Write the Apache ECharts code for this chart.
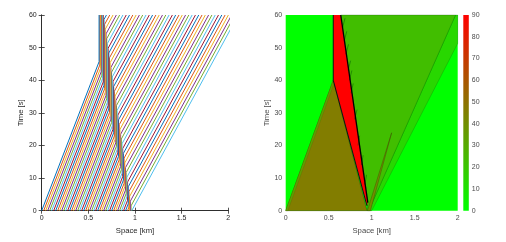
<!DOCTYPE html>
<html><head><meta charset="utf-8">
<script src="https://cdn.jsdelivr.net/npm/echarts@6/dist/echarts.min.js"></script>
<style>html,body{margin:0;padding:0;background:#fff}#c{width:506px;height:242px}</style>
</head><body><div id="c"></div>
<script>
// ---------- axis ticks ----------
const spaceTicks = [0, 0.5, 1, 1.5, 2];
const timeTicks = [0, 10, 20, 30, 40, 50, 60];
const densityTicks = [0, 10, 20, 30, 40, 50, 60, 70, 80, 90];

// ---------- left panel: vehicle trajectories (km, s), front vehicle first ----------
const startX = [0.965,0.9576,0.9501,0.9416,0.9202,0.8988,0.8774,0.856,0.8346,0.8132,0.7918,0.7704,0.749,0.7276,0.7062,0.6848,0.6634,0.642,0.6206,0.5992,0.5778,0.5564,0.535,0.5136,0.4922,0.4708,0.4494,0.428,0.4066,0.3852,0.3638,0.3424,0.321,0.2996,0.2782,0.2568,0.2354,0.214,0.1926,0.1712,0.1498,0.1284,0.107,0.0856,0.0642,0.0428,0.0214,0];
const stopX = [0.965,0.9576,0.9501,0.9427,0.9352,0.9278,0.9203,0.9129,0.9054,0.898,0.8905,0.8831,0.8756,0.8682,0.8607,0.8533,0.8458,0.8384,0.831,0.8235,0.8161,0.8086,0.8012,0.7937,0.7863,0.7788,0.7714,0.7639,0.7565,0.749,0.7416,0.7341,0.7267,0.7192,0.7118,0.7044,0.6969,0.6895,0.682,0.6746,0.6671,0.6597,0.6522,0.6448,0.6373,0.6299,0.6224,0.615];
const stopT = [0,0,0,0.08,1.12,2.15,3.19,4.23,5.26,6.3,7.34,8.37,9.41,10.45,11.48,12.52,13.56,14.59,15.63,16.67,17.7,18.74,19.78,20.81,21.85,22.89,23.92,24.96,26.0,27.03,28.07,29.11,30.14,31.18,32.21,33.25,34.29,35.32,36.36,37.4,38.43,39.47,40.51,41.54,42.58,43.62,44.65,45.69];
const goT = [0,1.47,2.93,4.4,5.86,7.33,8.79,10.26,11.72,13.19,14.65,16.12,17.58,19.05,20.51,21.98,23.44,24.91,26.37,27.84,29.3,30.77,32.23,33.7,35.16,36.63,38.09,39.56,41.02,42.49,43.95,45.42,46.88,48.35,49.81,51.28,52.74,54.21,55.67,57.14,58.6,60,60,60,60,60,60,60];
const endX = [2.107,2.0715,2.0362,2.0009,1.9655,1.9302,1.8948,1.8596,1.8242,1.7889,1.7535,1.7184,1.6831,1.6478,1.6124,1.5771,1.5418,1.5065,1.4711,1.4358,1.4005,1.3651,1.3298,1.2945,1.2592,1.2238,1.1885,1.1532,1.1179,1.0825,1.0472,1.0119,0.9766,0.9412,0.9059,0.8706,0.8353,0.7999,0.7646,0.7293,0.694,0.6597,0.6522,0.6448,0.6373,0.6299,0.6224,0.615];
const lineColors = ['#0072BD','#D95319','#EDB120','#7E2F8E','#77AC30','#4DBEEE','#A2142F'];

// ---------- right panel: density regions (km, s) ----------
const emptyRegion = [[0,0],[2,0],[2,60],[0,60]];
const emptyDensity = 0;
const outFanRegion = [[0.965,0],[1.0,0],[2,51.3],[2,60],[1.975,60]];
const outFanDensity = 14;
const downstreamRegion = [[0.945,0],[0.965,0],[1.975,60],[0.64,60],[0.955,2.5]];
const downstreamDensity = 23;
const upstreamRegion = [[0,0],[0.945,0],[0.553,40]];
const upstreamDensity = 46;
const inFanRegion = [[0,0],[0.553,40],[0.565,39.2],[0.025,0]];
const inFanDensity = 34;
const sliverRegion = [[0.95,0],[0.985,0],[1.232,23.9]];
const sliverDensity = 40;
const jamRegion = [[0.945,1.5],[0.553,40],[0.553,60],[0.64,60],[0.955,2.5]];
const jamDensity = 90;
const jamFrontLine = [[0.955,2.5],[0.64,60]];
const jamTailLine = [[0.945,1.5],[0.553,40],[0.553,60]];
const hatchStarts = [[0.66,56],[0.68,52],[0.70,48],[0.725,43],[0.74,40],[0.76,36],[0.80,28],[0.84,20],[0.88,14],[0.92,8]];
const hatchEnds = [[0.69,59],[0.71,55],[0.73,51],[0.755,46],[0.77,43],[0.785,39],[0.83,31],[0.86,23],[0.9,17],[0.94,11]];

function densityColor(v){
  const f = v/90;
  return 'rgb(' + Math.round(255*f) + ',' + Math.round(255*(1-f)) + ',0)';
}

const FONT = '"Liberation Sans", Arial, Helvetica, sans-serif';
const chart = echarts.init(document.getElementById('c'), null, {renderer:'canvas'});

const leftAxisLine = {show:true, lineStyle:{color:'#262626', width:0.8}};
const tickIn = {show:true, inside:true, length:3, lineStyle:{color:'#262626', width:0.8}};

const series = [];
for (let i = 0; i < startX.length; i++) {
  series.push({
    type:'line', xAxisIndex:0, yAxisIndex:0, symbol:'none', silent:true,
    lineStyle:{color: lineColors[(startX.length - 1 - i) % 7], width:1},
    data:[[startX[i],0],[stopX[i],stopT[i]],[stopX[i],goT[i]],[endX[i],60]],
    clip:true, animation:false
  });
}

function polySeries(poly, dens, stroke, lw){
  return {
    type:'custom', xAxisIndex:2, yAxisIndex:2, silent:true, animation:false,
    data:[[0]],
    renderItem:function(params, api){
      const pts = poly.map(function(p){ return api.coord(p); });
      return {type:'polygon', shape:{points:pts},
        style:{fill:densityColor(dens), stroke:stroke || 'none', lineWidth:lw || 0}};
    }
  };
}
series.push(polySeries(emptyRegion, emptyDensity));
series.push(polySeries(outFanRegion, outFanDensity, 'rgba(0,80,0,0.35)', 0.6));
series.push(polySeries(downstreamRegion, downstreamDensity, 'rgba(0,60,0,0.4)', 0.6));
series.push(polySeries(upstreamRegion, upstreamDensity, 'rgba(60,60,0,0.5)', 0.8));
series.push(polySeries(inFanRegion, inFanDensity, 'rgba(60,60,0,0.3)', 0.5));
series.push(polySeries(sliverRegion, sliverDensity, 'rgba(60,60,0,0.6)', 0.6));
series.push(polySeries(jamRegion, jamDensity));
for (let k = 0; k < hatchStarts.length; k++) {
  series.push({type:'line', xAxisIndex:2, yAxisIndex:2, symbol:'none', silent:true, animation:false,
    lineStyle:{color:'rgba(0,90,0,0.7)', width:0.7}, data:[hatchStarts[k], hatchEnds[k]]});
}
series.push({type:'line', xAxisIndex:2, yAxisIndex:2, symbol:'none', silent:true, animation:false,
  lineStyle:{color:'#000', width:1.3}, data:jamFrontLine});
series.push({type:'line', xAxisIndex:2, yAxisIndex:2, symbol:'none', silent:true, animation:false,
  lineStyle:{color:'#111', width:1}, data:jamTailLine});

// colorbar
series.push({
  type:'custom', xAxisIndex:3, yAxisIndex:3, silent:true, animation:false, data:[[0]],
  renderItem:function(params, api){
    const a = api.coord([0, densityTicks[densityTicks.length-1]]);
    const b = api.coord([1, densityTicks[0]]);
    const stops = densityTicks.map(function(v, j){
      return {offset: j/(densityTicks.length-1), color: densityColor(v)};
    });
    return {type:'rect', shape:{x:a[0], y:a[1], width:b[0]-a[0], height:b[1]-a[1]},
      style:{fill:new echarts.graphic.LinearGradient(0,1,0,0,stops)}};
  }
});

const labelDark = {fontSize:7, color:'#262626', fontFamily:FONT};
const labelLight = {fontSize:7, color:'#4a4a4a', fontFamily:FONT};

const option = {
  animation:false,
  backgroundColor:'#ffffff',
  grid:[
    {left:41.7, top:15, width:186.6, height:195.7},
    {left:285.7, top:15, width:172, height:195.7},
    {left:463.3, top:15, width:5.5, height:195.7}
  ],
  xAxis:[
    {gridIndex:0, type:'value', min:0, max:2, interval:0.5, position:'bottom',
     axisLine:leftAxisLine, axisTick:tickIn, splitLine:{show:false},
     axisLabel:Object.assign({margin:4}, labelDark),
     name:'Space [km]', nameLocation:'middle', nameGap:15,
     nameTextStyle:{fontSize:7.7, color:'#262626', fontFamily:FONT}},
    {gridIndex:0, type:'value', min:0, max:2, interval:0.5, position:'top',
     axisLine:leftAxisLine, axisTick:tickIn, splitLine:{show:false}, axisLabel:{show:false}},
    {gridIndex:1, type:'value', min:0, max:2, interval:0.5, position:'bottom',
     axisLine:{show:false}, axisTick:{show:false}, splitLine:{show:false},
     axisLabel:Object.assign({margin:4}, labelLight),
     name:'Space [km]', nameLocation:'middle', nameGap:14.5,
     nameTextStyle:{fontSize:7.7, color:'#4a4a4a', fontFamily:FONT}},
    {gridIndex:2, type:'value', min:0, max:1, show:false}
  ],
  yAxis:[
    {gridIndex:0, type:'value', min:0, max:60, interval:10, position:'left',
     axisLine:leftAxisLine, axisTick:tickIn, splitLine:{show:false},
     axisLabel:Object.assign({margin:5}, labelDark),
     name:'Time [s]', nameLocation:'middle', nameGap:10,
     nameTextStyle:{fontSize:7.7, color:'#262626', fontFamily:FONT}},
    {gridIndex:0, type:'value', min:0, max:60, interval:10, position:'right',
     axisLine:leftAxisLine, axisTick:tickIn, splitLine:{show:false}, axisLabel:{show:false}},
    {gridIndex:1, type:'value', min:0, max:60, interval:10, position:'left',
     axisLine:{show:false}, axisTick:{show:false}, splitLine:{show:false},
     axisLabel:Object.assign({margin:3.5}, labelLight),
     name:'Time [s]', nameLocation:'middle', nameGap:12,
     nameTextStyle:{fontSize:7.7, color:'#4a4a4a', fontFamily:FONT}},
    {gridIndex:2, type:'value', min:0, max:90, interval:10, position:'right',
     axisLine:{show:false}, axisTick:{show:false}, splitLine:{show:false},
     axisLabel:Object.assign({margin:3}, labelLight)}
  ],
  series:series
};
chart.setOption(option);
</script></body></html>
